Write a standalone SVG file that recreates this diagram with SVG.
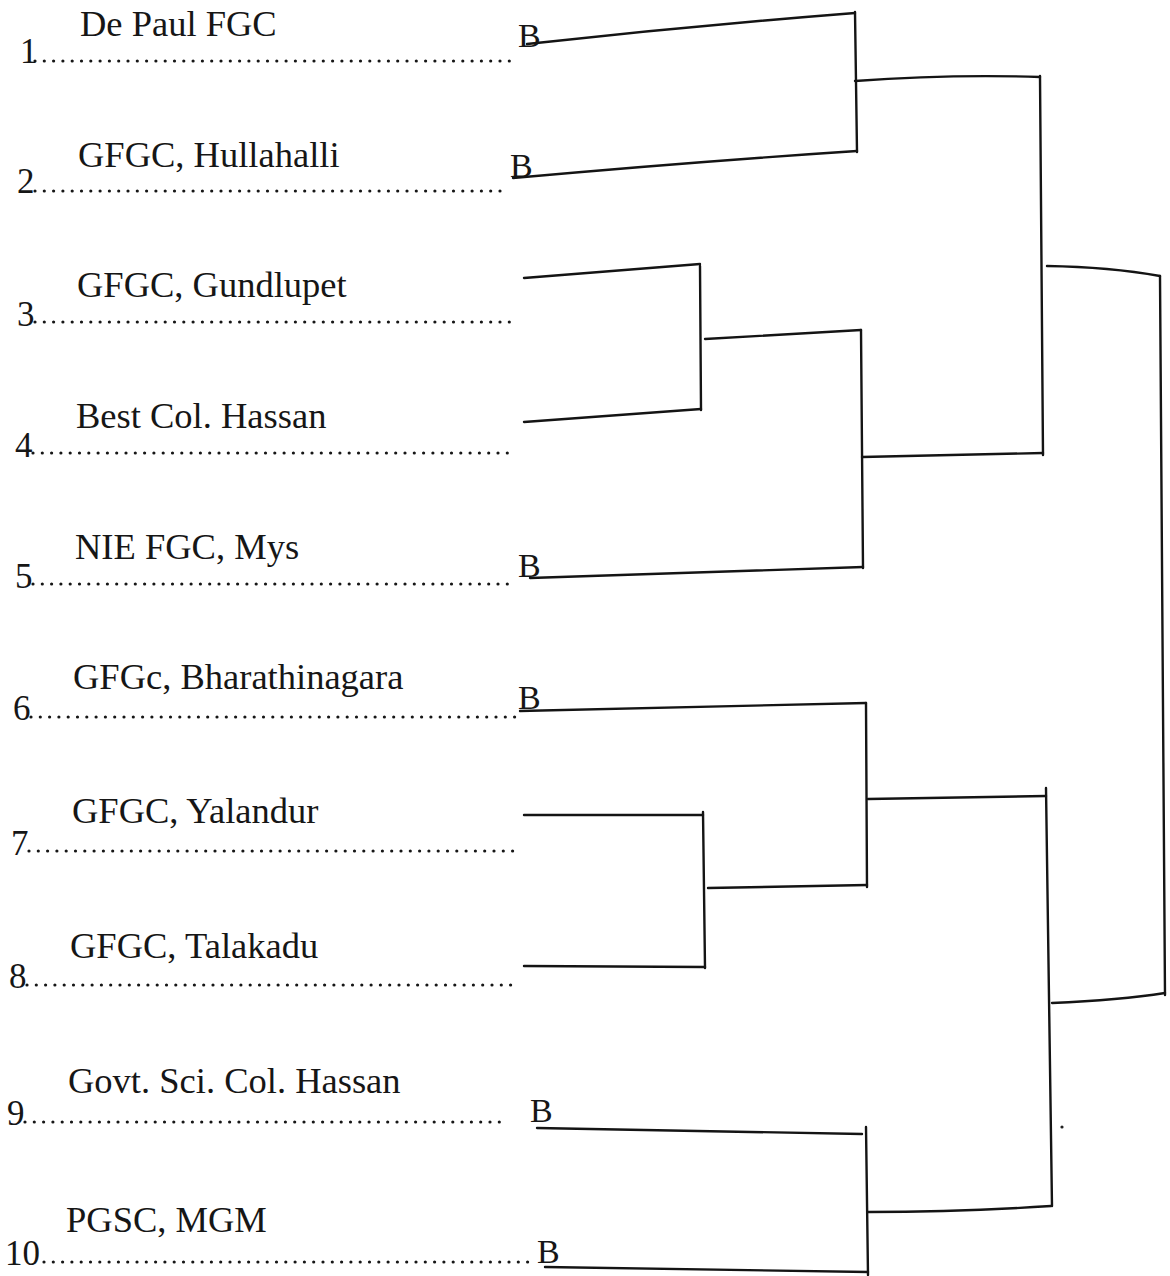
<svg xmlns="http://www.w3.org/2000/svg" width="1170" height="1276" viewBox="0 0 1170 1276">
<style>
  .lbl{font-family:"Liberation Serif","Times New Roman",serif;font-size:36.5px;fill:#161616}
  .num{font-family:"Liberation Serif","Times New Roman",serif;font-size:35px;fill:#161616}
  .b{font-family:"Liberation Serif","Times New Roman",serif;font-size:34px;fill:#161616}
  .dots{stroke:#161616;stroke-width:3.2;stroke-linecap:round;stroke-dasharray:0 9.3;fill:none}
  .ln{stroke:#141414;stroke-width:2.4;fill:none;stroke-linecap:round;stroke-linejoin:round}
</style>
<rect width="1170" height="1276" fill="#ffffff"/>

<g id="team1">
  <text class="lbl" x="80" y="36">De Paul FGC</text>
  <text class="num" x="20" y="63">1</text>
  <line class="dots" x1="35" y1="61" x2="513" y2="61"/>
  <text class="b" x="518" y="47">B</text>
</g>
<g id="team2">
  <text class="lbl" x="78" y="167">GFGC, Hullahalli</text>
  <text class="num" x="17" y="193">2</text>
  <line class="dots" x1="35" y1="191" x2="507" y2="191"/>
  <text class="b" x="510" y="177">B</text>
</g>
<g id="team3">
  <text class="lbl" x="77" y="297">GFGC, Gundlupet</text>
  <text class="num" x="17" y="326">3</text>
  <line class="dots" x1="35" y1="322" x2="515" y2="322"/>
</g>
<g id="team4">
  <text class="lbl" x="76" y="428">Best Col. Hassan</text>
  <text class="num" x="15" y="457">4</text>
  <line class="dots" x1="33" y1="453" x2="515" y2="453"/>
</g>
<g id="team5">
  <text class="lbl" x="75" y="559">NIE FGC, Mys</text>
  <text class="num" x="15" y="588">5</text>
  <line class="dots" x1="33" y1="584" x2="515" y2="584"/>
  <text class="b" x="518" y="577">B</text>
</g>
<g id="team6">
  <text class="lbl" x="73" y="689">GFGc, Bharathinagara</text>
  <text class="num" x="13" y="720">6</text>
  <line class="dots" x1="31" y1="717" x2="515" y2="717"/>
  <text class="b" x="518" y="709">B</text>
</g>
<g id="team7">
  <text class="lbl" x="72" y="823">GFGC, Yalandur</text>
  <text class="num" x="11" y="855">7</text>
  <line class="dots" x1="29" y1="851" x2="515" y2="851"/>
</g>
<g id="team8">
  <text class="lbl" x="70" y="958">GFGC, Talakadu</text>
  <text class="num" x="9" y="988">8</text>
  <line class="dots" x1="27" y1="985" x2="515" y2="985"/>
</g>
<g id="team9">
  <text class="lbl" x="68" y="1093">Govt. Sci. Col. Hassan</text>
  <text class="num" x="7" y="1125">9</text>
  <line class="dots" x1="25" y1="1122" x2="508" y2="1122"/>
  <text class="b" x="530" y="1122">B</text>
</g>
<g id="team10">
  <text class="lbl" x="66" y="1232">PGSC, MGM</text>
  <text class="num" x="5" y="1265">10</text>
  <line class="dots" x1="44" y1="1262" x2="531" y2="1262"/>
  <text class="b" x="537" y="1263">B</text>
</g>

<g id="connectors">
  <path class="ln" d="M527,44 Q690,26 855,13"/>
  <path class="ln" d="M855,12 L857,152"/>
  <path class="ln" d="M513,178 Q690,162 857,151"/>
  <path class="ln" d="M855,81 Q950,74 1040,77"/>
  <path class="ln" d="M1040,76 L1043,455"/>
  <path class="ln" d="M524,278 L700,264"/>
  <path class="ln" d="M700,266 L701,410"/>
  <path class="ln" d="M524,422 L701,409"/>
  <path class="ln" d="M705,339 L861,330"/>
  <path class="ln" d="M861,330 L863,568"/>
  <path class="ln" d="M530,578 L863,567"/>
  <path class="ln" d="M862,457 L1043,453"/>
  <path class="ln" d="M1047,266 Q1110,267 1160,276"/>
  <path class="ln" d="M1160,276 L1165,995"/>
  <path class="ln" d="M1052,1003 Q1120,1000 1165,993"/>
  <path class="ln" d="M520,711 L866,703"/>
  <path class="ln" d="M866,703 L867,887"/>
  <path class="ln" d="M524,815 L703,815"/>
  <path class="ln" d="M703,812 L705,968"/>
  <path class="ln" d="M524,966 L705,967"/>
  <path class="ln" d="M708,888 L867,885"/>
  <path class="ln" d="M868,799 L1046,796"/>
  <path class="ln" d="M1046,788 L1052,1206"/>
  <path class="ln" d="M537,1128 L862,1134"/>
  <path class="ln" d="M866,1127 L868,1275"/>
  <path class="ln" d="M545,1267 L868,1272"/>
  <path class="ln" d="M868,1212 Q960,1212 1051,1206"/>
</g>
<circle cx="1062" cy="1127" r="1.6" fill="#222"/>
</svg>
